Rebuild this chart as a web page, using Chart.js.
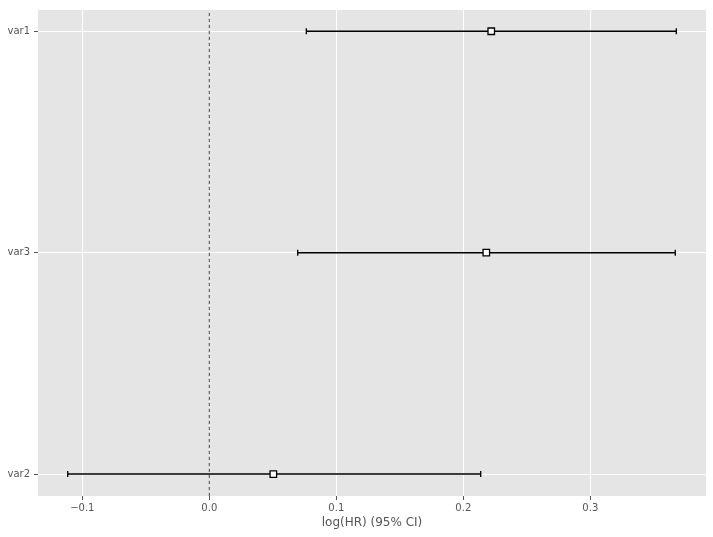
<!DOCTYPE html>
<html>
<head>
<meta charset="utf-8">
<script src="https://cdn.jsdelivr.net/npm/chart.js@4"></script>
<style>
  html, body { margin: 0; padding: 0; background: #fff; }
  #wrap { width: 713px; height: 537px; }
</style>
</head>
<body>
<div id="wrap"><canvas id="c" width="713" height="537"></canvas></div>
<script>
// rows from top to bottom, as drawn
const covariates = ['var1', 'var3', 'var2']
const rowPos = [2, 1, 0]
const coef = [0.222, 0.2181, 0.0504]
const lowerCI = [0.0764, 0.0696, -0.1115]
const upperCI = [0.3677, 0.3669, 0.2137]
const xTicks = [-0.1, 0.0, 0.1, 0.2, 0.3]

const textColor = '#555555'

// grey panel behind the plot
const panelBg = {
  id: 'panelBg',
  beforeDraw(chart) {
    const a = chart.chartArea
    const ctx = chart.ctx
    ctx.save()
    ctx.fillStyle = '#E5E5E5'
    ctx.fillRect(a.left, a.top, a.right - a.left, a.bottom - a.top)
    ctx.restore()
  }
}

const ciSets = covariates.map((name, i) => ({
  type: 'line',
  label: name + ' CI',
  data: [{x: lowerCI[i], y: rowPos[i]}, {x: upperCI[i], y: rowPos[i]}],
  borderColor: '#000',
  borderWidth: 1.5,
  pointStyle: 'line',
  pointRotation: 90,
  pointRadius: 3,
  pointBorderColor: '#000',
  pointBorderWidth: 1.3,
  order: 2
}))

const datasets = [
  {
    type: 'line',
    label: 'zero',
    data: [{x: 0, y: -0.1}, {x: 0, y: 2.1}],
    borderColor: '#444',
    borderWidth: 1,
    borderDash: [3.5, 2.5],
    pointRadius: 0,
    order: 3
  },
  ...ciSets,
  {
    type: 'scatter',
    label: 'coef',
    data: covariates.map((n, i) => ({x: coef[i], y: rowPos[i]})),
    pointStyle: 'rect',
    pointRadius: 4.6,
    backgroundColor: '#fff',
    borderColor: '#000',
    borderWidth: 1.3,
    order: 1
  }
]

new Chart(document.getElementById('c'), {
  type: 'scatter',
  data: { datasets: datasets },
  plugins: [panelBg],
  options: {
    responsive: false,
    animation: false,
    layout: { padding: { top: 8, right: 7, left: 0, bottom: 0 } },
    plugins: { legend: { display: false }, tooltip: { enabled: false } },
    scales: {
      x: {
        type: 'linear',
        min: -0.1349,
        max: 0.3911,
        afterBuildTicks(scale) { scale.ticks = xTicks.map(v => ({value: v})) },
        afterFit(scale) { scale.height = 41 },
        border: { display: false },
        grid: { color: '#fff', lineWidth: 1, tickLength: 4, tickColor: textColor },
        ticks: {
          color: textColor,
          font: { family: 'DejaVu Sans', size: 10 },
          padding: 2,
          maxRotation: 0,
          callback: v => v.toFixed(1).replace('-', '\u2212')
        },
        title: {
          display: true,
          text: 'log(HR) (95% CI)',
          color: textColor,
          font: { family: 'DejaVu Sans', size: 12 },
          padding: { top: 2, bottom: 7 }
        }
      },
      y: {
        type: 'linear',
        min: -0.099,
        max: 2.096,
        afterBuildTicks(scale) { scale.ticks = rowPos.map(v => ({value: v})) },
        afterFit(scale) { scale.width = 38 },
        border: { display: false },
        grid: { color: '#fff', lineWidth: 1, tickLength: 4, tickColor: textColor },
        ticks: {
          color: textColor,
          font: { family: 'DejaVu Sans', size: 10 },
          padding: 4,
          callback: v => covariates[rowPos.indexOf(v)]
        }
      }
    }
  }
})
</script>
</body>
</html>
